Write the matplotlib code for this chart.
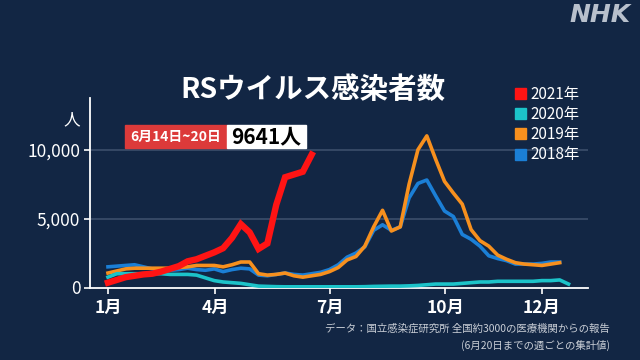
import matplotlib
matplotlib.use("Agg")
import matplotlib.pyplot as plt
from matplotlib.patches import Rectangle

plt.rcParams['font.family'] = ['Noto Sans CJK JP', 'DejaVu Sans']

# weekly counts (week 1 = first week of January)
cases_2021 = [350, 550, 750, 850, 950, 1000, 1150, 1350, 1550, 1900, 2050, 2300,
              2550, 2850, 3600, 4600, 4000, 2800, 3200, 6000, 8000, 8200, 8400, 9641]
cases_2020 = [750, 1000, 1000, 1000, 1000, 1000, 1000, 950, 950, 950, 900, 700,
              500, 400, 350, 300, 200, 100, 80, 60, 50, 50, 50, 50, 50, 50, 50,
              50, 50, 60, 80, 90, 100, 100, 120, 150, 200, 250, 250, 250, 300,
              350, 400, 400, 450, 450, 450, 450, 450, 500, 500, 550, 250]
cases_2019 = [1050, 1200, 1350, 1400, 1400, 1400, 1400, 1400, 1450, 1500, 1600,
              1600, 1600, 1500, 1650, 1850, 1850, 1000, 900, 950, 1050, 850, 750,
              850, 950, 1150, 1450, 2000, 2250, 3000, 4400, 5600, 4100, 4400,
              7500, 10000, 11000, 9300, 7700, 6850, 6050, 4200, 3400, 3000, 2350,
              2050, 1800, 1700, 1650, 1600, 1700, 1800]
cases_2018 = [1500, 1550, 1600, 1650, 1500, 1350, 1250, 1250, 1300, 1400, 1300,
              1250, 1350, 1150, 1300, 1400, 1350, 900, 850, 950, 1050, 950, 900,
              1000, 1100, 1300, 1650, 2200, 2500, 2950, 4150, 4550, 4150, 4400,
              6500, 7550, 7800, 6650, 5550, 5150, 3850, 3500, 3000, 2300, 2100,
              1950, 1700, 1700, 1700, 1750, 1850, 1850]

month_pos = [1, 13.1, 26.1, 39.1, 50]
month_labels = ['1月', '4月', '7月', '10月', '12月']
y_ticks = [0, 5000, 10000]
y_labels = ['0', '5,000', '10,000']

series = [
    ('2021年', cases_2021, '#ff1414', 4.6),
    ('2020年', cases_2020, '#1cc3c9', 2.6),
    ('2019年', cases_2019, '#f7901e', 2.6),
    ('2018年', cases_2018, '#1b7fd6', 2.6),
]

bg = '#122644'
fig = plt.figure(figsize=(6.4, 3.6), dpi=100, facecolor=bg)
ax = fig.add_axes([90 / 640, 72.5 / 360, 498 / 640, 189.5 / 360])
ax.set_facecolor(bg)

z = {'2018年': 2, '2019年': 3, '2020年': 4, '2021年': 5}
for name, vals, col, lw in series:
    weeks = list(range(1, len(vals) + 1))
    ax.plot(weeks, vals, color=col, lw=lw, zorder=z[name],
            solid_joinstyle='miter' if name == '2021年' else 'round')

ax.set_xlim(-1.03, 55.2)
ax.set_ylim(0, 13750)
ax.set_xticks(month_pos)
ax.set_xticklabels(month_labels, fontweight='bold')
ax.set_yticks(y_ticks)
ax.set_yticklabels(y_labels)
ax.tick_params(colors='white', labelsize=12.5, length=4, width=1.2, pad=3)
ax.tick_params(axis='x', pad=4)
for lab in ax.get_xticklabels() + ax.get_yticklabels():
    lab.set_color('white')
for s in ['top', 'right']:
    ax.spines[s].set_visible(False)
for s in ['left', 'bottom']:
    ax.spines[s].set_color('white')
    ax.spines[s].set_linewidth(1.3)
for yv in y_ticks[1:]:
    ax.axhline(yv, color='#3b4e6b', lw=1.2, zorder=1)

# title and y unit
fig.text(313 / 640, 1 - 90 / 360, 'RSウイルス感染者数', color='white',
         fontsize=20.5, fontweight='bold', ha='center', va='center')
fig.text(72 / 640, 1 - 120 / 360, '人', color='white', fontsize=12,
         ha='center', va='center')

# callout boxes
fig.patches.append(Rectangle((125 / 640, 1 - 148 / 360), 102 / 640, 23 / 360,
                             transform=fig.transFigure, color='#dc3a3a', zorder=6))
fig.patches.append(Rectangle((227 / 640, 1 - 148 / 360), 79 / 640, 23 / 360,
                             transform=fig.transFigure, color='white', zorder=6))
fig.text(176 / 640, 1 - 136.5 / 360, '6月14日~20日', color='white', fontsize=10,
         fontweight='bold', ha='center', va='center', zorder=7)
fig.text(266 / 640, 1 - 136.5 / 360, '9641人', color='black', fontsize=15,
         fontweight='bold', ha='center', va='center', zorder=7)

# legend
for i, (name, vals, col, lw) in enumerate(series):
    yc = 1 - (94 + i * 20) / 360
    fig.patches.append(Rectangle((515 / 640, yc - 5.5 / 360), 11 / 640, 11 / 360,
                                 transform=fig.transFigure, color=col))
    fig.text(530 / 640, yc, name, color='white', fontsize=11, ha='left', va='center')

# source note
fig.text(610 / 640, 1 - 328 / 360, 'データ：国立感染症研究所 全国約3000の医療機関からの報告',
         color='#c9ced6', fontsize=7.5, ha='right', va='center')
fig.text(610 / 640, 1 - 345 / 360, '(6月20日までの週ごとの集計値)',
         color='#c9ced6', fontsize=7.5, ha='right', va='center')

# logo
fig.text(631 / 640, 1 - 15 / 360, 'NHK', color='#b8c0cc', fontsize=18,
         fontweight='bold', fontstyle='italic', family='DejaVu Sans',
         ha='right', va='center')

fig.savefig('out.png', dpi=100, facecolor=bg)
